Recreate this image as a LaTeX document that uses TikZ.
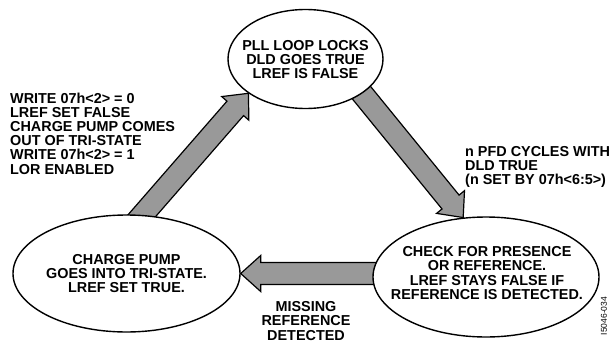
\documentclass[tikz,border=0pt]{standalone}
\usepackage{fontspec}
\setmainfont{Liberation Sans}
\usetikzlibrary{calc,backgrounds,shapes.geometric}
\definecolor{arrowgray}{RGB}{153,153,153}
\tikzset{
  state/.style={ellipse, draw, line width=1.4pt, fill=white, inner sep=0pt},
  lbl/.style={font=\bfseries\fontsize{14.4}{14.2}\selectfont, align=center, inner sep=0pt},
  arrowbody/.style={draw, line width=1.2pt, fill=arrowgray, line join=miter},
  figid/.style={font=\fontsize{8.5}{8.5}\selectfont, inner sep=0pt, rotate=90},
}
\newcommand{\blockarr}[2]{%
  \coordinate (ba-h) at ($(#2)!20pt!(#1)$);
  \draw[arrowbody] ($(#1)!11pt!90:(#2)$) -- ($(ba-h)!11pt!90:(#2)$)
    -- ($(ba-h)!18pt!90:(#2)$) -- (#2) -- ($(ba-h)!18pt!-90:(#2)$)
    -- ($(ba-h)!11pt!-90:(#2)$) -- ($(#1)!11pt!-90:(#2)$) -- cycle;}
\begin{document}
\begin{tikzpicture}[x=1pt,y=-1pt]
\useasboundingbox (0,0) rectangle (613,343);
% states
\node[state, minimum width=155pt, minimum height=99pt] (top) at (305.5,59) {};
\node[lbl] (toptext) at (305.5,59.5) {PLL LOOP LOCKS\\DLD GOES TRUE\\LREF IS FALSE};
\node[state, minimum width=227pt, minimum height=117pt] (bl) at (126.5,273.5) {};
\node[lbl] (bltext) at (126.5,273.5) {CHARGE PUMP\\GOES INTO TRI-STATE.\\LREF SET TRUE.};
\node[state, minimum width=226pt, minimum height=120pt] (br) at (486,277) {};
\node[lbl] (brtext) at (487,273) {CHECK FOR PRESENCE\\OR REFERENCE.\\LREF STAYS FALSE IF\\REFERENCE IS DETECTED.};
% transition labels
\node[lbl, align=left, anchor=north west] (lefttext) at (10,92.5)
  {WRITE 07h<2> = 0\\LREF SET FALSE\\CHARGE PUMP COMES\\OUT OF TRI-STATE\\WRITE 07h<2> = 1\\LOR ENABLED};
\node[lbl, align=left, anchor=north west] (righttext) at (465,146)
  {n PFD CYCLES WITH\\DLD TRUE\\(n SET BY 07h<6:5>)};
\node[lbl, anchor=north] (bottext) at (306,301.5) {MISSING\\REFERENCE\\DETECTED};
\node[figid] (fig) at (604,316) {I5046-034};
% arrows
\coordinate (t1) at (125,235);
\coordinate (t2) at (343,70);
\coordinate (t3) at (400,273.5);
\begin{pgfonlayer}{background}
\blockarr{t1}{top.211}
\blockarr{t2}{br.111}
\blockarr{t3}{bl.east}
\end{pgfonlayer}
\end{tikzpicture}
\end{document}
